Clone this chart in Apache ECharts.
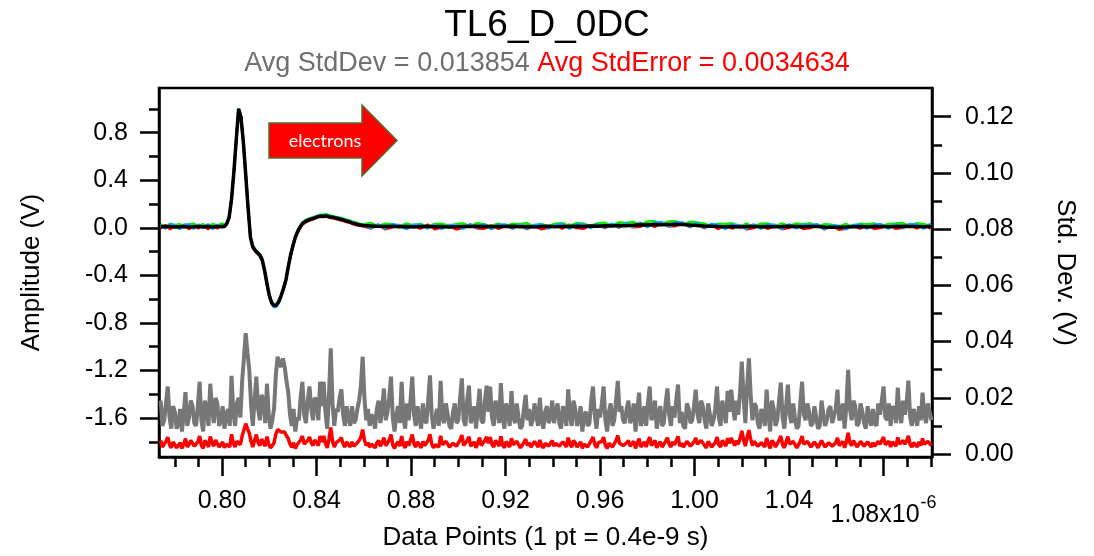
<!DOCTYPE html>
<html>
<head>
<meta charset="utf-8">
<script src="https://cdn.jsdelivr.net/npm/echarts@6/dist/echarts.min.js"></script>
<style>
  html, body { margin: 0; padding: 0; background: #ffffff; }
  #chart { width: 1094px; height: 556px; }
</style>
</head>
<body>
<div id="chart"></div>
<script>
// ---------------- data ----------------
const chartTitle = 'TL6_D_0DC';
const avgStdDev = '0.013854';
const avgStdError = '0.0034634';

// axis ticks (time axis in units of 1e-6 s)
const xTickValues = [0.80, 0.84, 0.88, 0.92, 0.96, 1.00, 1.04, 1.08];
const xMinorTicks = [0.78, 0.79, 0.81, 0.82, 0.83, 0.85, 0.86, 0.87, 0.89, 0.90, 0.91,
  0.93, 0.94, 0.95, 0.97, 0.98, 0.99, 1.01, 1.02, 1.03, 1.05, 1.06, 1.07, 1.09, 1.10];
const ampTickValues = [-1.6, -1.2, -0.8, -0.4, 0.0, 0.4, 0.8];
const ampMinorTicks = [-1.8, -1.4, -1.0, -0.6, -0.2, 0.2, 0.6, 1.0];
const devTickValues = [0.00, 0.02, 0.04, 0.06, 0.08, 0.10, 0.12];
const devMinorTicks = [0.01, 0.03, 0.05, 0.07, 0.09, 0.11];

// sampling segments of the waveform traces: [start, step, count]
const waveSegments = [[0.774, 0.002, 14], [0.801, 0.001, 60], [0.863, 0.003, 80]];
// sampling of the deviation traces
const devStart = 0.774;
const devStep = 0.00075;

// averaged waveform (V)
const waveMean = [
  0.010, 0.008, 0.012, 0.007, 0.009, 0.011, 0.006, 0.009, 0.012, 0.008, 0.010, 0.007, 0.010, 0.012,
  0.012, 0.035, 0.09, 0.24, 0.47, 0.74, 1.0, 0.93, 0.72, 0.45,
  0.17, -0.08, -0.16, -0.19, -0.21, -0.23, -0.27, -0.36, -0.47, -0.57,
  -0.63, -0.655, -0.65, -0.62, -0.57, -0.51, -0.44, -0.33, -0.23, -0.15,
  -0.08, -0.03, 0.005, 0.035, 0.05, 0.06, 0.068, 0.075, 0.082, 0.09,
  0.096, 0.10, 0.098, 0.10, 0.095, 0.09, 0.088, 0.082, 0.078, 0.072,
  0.068, 0.06, 0.055, 0.05, 0.042, 0.036, 0.03, 0.025, 0.022, 0.02,
  0.016, 0.012, 0.010, 0.014, 0.008, 0.011, 0.007, 0.010, 0.012, 0.008,
  0.011, 0.006, 0.009, 0.012, 0.010, 0.014, 0.011, 0.008, 0.012, 0.010,
  0.013, 0.009, 0.011, 0.007, 0.010, 0.013, 0.009, 0.012, 0.010, 0.014,
  0.011, 0.015, 0.013, 0.017, 0.016, 0.020, 0.018, 0.022, 0.025, 0.024,
  0.027, 0.026, 0.028, 0.030, 0.027, 0.024, 0.020, 0.016, 0.013, 0.010,
  0.008, 0.011, 0.007, 0.010, 0.012, 0.009, 0.011, 0.008, 0.010, 0.013,
  0.011, 0.009, 0.012, 0.010, 0.007, 0.005, 0.004, 0.006, 0.009, 0.011,
  0.008, 0.010, 0.012, 0.009, 0.011, 0.013, 0.010, 0.012, 0.009, 0.011
];

// individual acquisitions (V)
const waveRed = [
  -0.006, 0.024, -0.012, 0.018, -0.008, 0.026, -0.012, 0.020, -0.006, 0.024, -0.012, 0.018, -0.006, 0.024,
  0.004, 0.030, 0.085, 0.235, 0.465, 0.735, 0.995, 0.925, 0.715, 0.445,
  0.165, -0.085, -0.17, -0.20, -0.22, -0.24, -0.28, -0.365, -0.475, -0.575,
  -0.635, -0.66, -0.655, -0.625, -0.575, -0.515, -0.445, -0.335, -0.235, -0.155,
  -0.085, -0.04, -0.005, 0.025, 0.04, 0.052, 0.06, 0.068, 0.075, 0.083,
  0.09, 0.093, 0.09, 0.094, 0.088, 0.083, 0.08, 0.075, 0.07, 0.064,
  0.06, 0.052, 0.047, 0.043, 0.034, 0.028, 0.022, 0.017, 0.014, 0.012,
  -0.006, 0.026, -0.012, 0.004, 0.024, -0.010, 0.020, -0.008, 0.028, -0.012,
  0.002, 0.020, -0.014, 0.000, 0.026, -0.006, -0.008, 0.022, -0.010, 0.018,
  -0.006, 0.024, -0.012, 0.018, -0.012, 0.000, 0.024, -0.008, 0.026, -0.002,
  -0.008, 0.020, 0.028, -0.002, 0.032, 0.002, 0.036, 0.004, 0.008, 0.040,
  0.008, 0.038, 0.012, 0.014, 0.042, 0.006, 0.034, -0.004, 0.026, -0.010,
  0.022, -0.008, 0.024, -0.012, -0.002, 0.026, -0.010, 0.020, -0.012, 0.000,
  0.026, -0.010, -0.002, 0.024, -0.014, 0.018, -0.016, -0.008, 0.022, -0.008,
  0.024, -0.010, 0.000, 0.026, -0.008, -0.002, 0.026, -0.006, 0.024, -0.006
];
const waveGreen = [
  0.030, 0.006, 0.034, 0.018, 0.032, 0.004, 0.026, 0.036, 0.012, 0.030, 0.006, 0.032, 0.018, 0.038,
  0.020, 0.042, 0.098, 0.248, 0.478, 0.748, 1.005, 0.94, 0.728, 0.458,
  0.178, -0.07, -0.15, -0.18, -0.20, -0.22, -0.26, -0.35, -0.46, -0.56,
  -0.625, -0.65, -0.645, -0.615, -0.565, -0.505, -0.435, -0.325, -0.225, -0.14,
  -0.07, -0.02, 0.015, 0.045, 0.06, 0.07, 0.078, 0.085, 0.092, 0.1,
  0.106, 0.11, 0.112, 0.115, 0.108, 0.102, 0.098, 0.094, 0.09, 0.085,
  0.08, 0.072, 0.068, 0.062, 0.054, 0.048, 0.042, 0.036, 0.032, 0.03,
  0.040, 0.014, 0.034, 0.030, 0.010, 0.036, 0.020, 0.033, 0.008, 0.032,
  0.035, 0.016, 0.031, 0.038, 0.012, 0.040, 0.028, 0.014, 0.036, 0.009,
  0.034, 0.030, 0.040, 0.012, 0.033, 0.011, 0.035, 0.038, 0.015, 0.040,
  0.034, 0.014, 0.038, 0.042, 0.018, 0.046, 0.040, 0.050, 0.027, 0.052,
  0.055, 0.030, 0.054, 0.056, 0.028, 0.050, 0.044, 0.036, 0.012, 0.034,
  0.032, 0.038, 0.010, 0.035, 0.008, 0.034, 0.036, 0.012, 0.037, 0.014,
  0.036, 0.030, 0.038, 0.008, 0.030, 0.026, 0.010, 0.032, 0.006, 0.035,
  0.030, 0.037, 0.010, 0.033, 0.036, 0.040, 0.016, 0.038, 0.032, 0.010
];
const waveBlue = [
  0.024, -0.006, 0.028, 0.026, -0.010, 0.026, 0.030, -0.008, 0.028, -0.004, 0.030, -0.010, 0.026, 0.000,
  0.016, 0.038, 0.093, 0.243, 0.473, 0.743, 1.002, 0.935, 0.725, 0.455,
  0.175, -0.078, -0.162, -0.195, -0.215, -0.235, -0.275, -0.367, -0.48, -0.58,
  -0.64, -0.668, -0.665, -0.632, -0.58, -0.518, -0.446, -0.336, -0.234, -0.152,
  -0.08, -0.028, 0.008, 0.04, 0.056, 0.066, 0.074, 0.082, 0.088, 0.096,
  0.102, 0.106, 0.104, 0.108, 0.1, 0.096, 0.094, 0.088, 0.084, 0.078,
  0.074, 0.066, 0.06, 0.055, 0.048, 0.042, 0.036, 0.03, 0.028, 0.026,
  -0.004, 0.030, -0.008, 0.032, 0.020, -0.010, 0.028, 0.024, -0.006, 0.026,
  -0.010, 0.024, 0.022, -0.008, 0.030, 0.000, 0.030, -0.012, 0.026, 0.028,
  -0.006, 0.028, -0.008, 0.024, 0.030, -0.006, 0.022, 0.032, -0.008, 0.028,
  0.030, -0.004, 0.032, 0.002, 0.036, 0.004, 0.038, 0.008, 0.044, 0.006,
  0.042, 0.048, 0.010, 0.046, 0.044, 0.008, 0.040, 0.000, 0.032, 0.026,
  -0.010, 0.028, 0.022, -0.008, 0.030, -0.008, 0.028, 0.026, -0.010, 0.030,
  -0.006, 0.026, 0.024, 0.030, -0.012, 0.020, 0.018, -0.014, 0.024, 0.028,
  -0.008, 0.028, 0.030, -0.008, 0.028, -0.002, 0.032, 0.026, -0.008, 0.036
];
const waveYellow = [
  0.006, 0.011, 0.009, 0.002, 0.013, 0.007, 0.010, 0.004, 0.014, 0.006, 0.012, 0.008, 0.003, 0.010,
  0.010, 0.032, 0.088, 0.238, 0.468, 0.738, 0.998, 0.928, 0.718, 0.448,
  0.168, -0.082, -0.164, -0.194, -0.214, -0.234, -0.274, -0.364, -0.474, -0.574,
  -0.634, -0.658, -0.652, -0.622, -0.572, -0.512, -0.442, -0.334, -0.236, -0.158,
  -0.088, -0.036, 0.0, 0.03, 0.045, 0.055, 0.064, 0.07, 0.078, 0.086,
  0.092, 0.096, 0.094, 0.097, 0.092, 0.087, 0.085, 0.079, 0.075, 0.069,
  0.065, 0.057, 0.052, 0.047, 0.039, 0.033, 0.027, 0.022, 0.019, 0.017,
  0.012, 0.009, 0.014, 0.008, 0.011, 0.006, 0.010, 0.013, 0.007, 0.012,
  0.007, 0.010, 0.013, 0.008, 0.012, 0.009, 0.007, 0.012, 0.008, 0.013,
  0.010, 0.006, 0.013, 0.010, 0.007, 0.014, 0.008, 0.010, 0.013, 0.011,
  0.014, 0.012, 0.016, 0.014, 0.019, 0.017, 0.021, 0.024, 0.022, 0.026,
  0.025, 0.029, 0.027, 0.028, 0.025, 0.022, 0.018, 0.014, 0.011, 0.012,
  0.010, 0.008, 0.011, 0.012, 0.008, 0.013, 0.009, 0.011, 0.012, 0.010,
  0.013, 0.011, 0.009, 0.012, 0.009, 0.006, 0.007, 0.008, 0.011, 0.009,
  0.011, 0.012, 0.009, 0.012, 0.010, 0.011, 0.013, 0.010, 0.011, 0.009
];

// standard deviation across acquisitions (V)
const stdDevValues = [
  0.019, 0.010, 0.012, 0.018, 0.024, 0.013, 0.009, 0.017, 0.015, 0.009,
  0.011, 0.016, 0.008, 0.014, 0.022, 0.010, 0.013, 0.019, 0.017, 0.011,
  0.010, 0.017, 0.0257, 0.012, 0.008, 0.019, 0.016, 0.010, 0.025, 0.016,
  0.011, 0.020, 0.018, 0.010, 0.012, 0.017, 0.009, 0.014, 0.016, 0.010,
  0.0278, 0.015, 0.010, 0.018, 0.020, 0.013, 0.026, 0.034, 0.043, 0.036,
  0.030, 0.018, 0.010, 0.019, 0.0275, 0.016, 0.012, 0.021, 0.019, 0.011,
  0.025, 0.014, 0.009, 0.012, 0.016, 0.028, 0.0346, 0.032, 0.031, 0.034,
  0.031, 0.026, 0.022, 0.014, 0.010, 0.016, 0.008, 0.013, 0.012, 0.020,
  0.0257, 0.014, 0.011, 0.019, 0.024, 0.016, 0.012, 0.020, 0.019, 0.012,
  0.0257, 0.017, 0.0257, 0.015, 0.009, 0.021, 0.0376, 0.018, 0.010, 0.016,
  0.015, 0.020, 0.023, 0.014, 0.010, 0.017, 0.013, 0.010, 0.017, 0.011,
  0.012, 0.016, 0.019, 0.024, 0.0346, 0.020, 0.012, 0.016, 0.010, 0.014,
  0.013, 0.009, 0.016, 0.019, 0.011, 0.016, 0.0233, 0.012, 0.015, 0.020,
  0.0275, 0.013, 0.008, 0.014, 0.017, 0.011, 0.0257, 0.013, 0.009, 0.018,
  0.012, 0.019, 0.0275, 0.014, 0.010, 0.017, 0.013, 0.009, 0.018, 0.012,
  0.011, 0.019, 0.028, 0.014, 0.009, 0.013, 0.016, 0.010, 0.026, 0.013,
  0.011, 0.018, 0.014, 0.010, 0.009, 0.015, 0.018, 0.011, 0.012, 0.020,
  0.0269, 0.012, 0.010, 0.019, 0.0243, 0.011, 0.013, 0.017, 0.009, 0.016,
  0.0232, 0.012, 0.011, 0.019, 0.0243, 0.015, 0.024, 0.013, 0.010, 0.019,
  0.016, 0.011, 0.0252, 0.013, 0.009, 0.018, 0.015, 0.010, 0.0224, 0.013,
  0.011, 0.018, 0.013, 0.009, 0.010, 0.016, 0.021, 0.012, 0.016, 0.010,
  0.012, 0.018, 0.014, 0.010, 0.020, 0.012, 0.009, 0.015, 0.017, 0.011,
  0.013, 0.019, 0.011, 0.015, 0.018, 0.011, 0.009, 0.017, 0.014, 0.010,
  0.023, 0.014, 0.010, 0.019, 0.016, 0.010, 0.012, 0.017, 0.008, 0.014,
  0.015, 0.010, 0.011, 0.019, 0.024, 0.014, 0.009, 0.016, 0.013, 0.018,
  0.024, 0.012, 0.008, 0.015, 0.018, 0.010, 0.012, 0.019, 0.026, 0.015,
  0.017, 0.012, 0.011, 0.016, 0.019, 0.011, 0.013, 0.018, 0.008, 0.015,
  0.0218, 0.010, 0.012, 0.017, 0.010, 0.018, 0.024, 0.012, 0.014, 0.019,
  0.009, 0.014, 0.017, 0.010, 0.011, 0.018, 0.0233, 0.014, 0.010, 0.017,
  0.013, 0.019, 0.0247, 0.011, 0.015, 0.010, 0.009, 0.018, 0.016, 0.011,
  0.012, 0.017, 0.0229, 0.014, 0.011, 0.019, 0.017, 0.012, 0.009, 0.018,
  0.014, 0.010, 0.012, 0.016, 0.024, 0.013, 0.010, 0.019, 0.015, 0.011,
  0.0225, 0.015, 0.0229, 0.017, 0.012, 0.019, 0.014, 0.022, 0.0329, 0.020,
  0.011, 0.024, 0.034, 0.021, 0.012, 0.018, 0.017, 0.011, 0.009, 0.016,
  0.014, 0.010, 0.0229, 0.014, 0.008, 0.019, 0.016, 0.010, 0.012, 0.019,
  0.0254, 0.013, 0.009, 0.017, 0.0247, 0.014, 0.011, 0.018, 0.013, 0.009,
  0.010, 0.018, 0.0257, 0.014, 0.012, 0.018, 0.015, 0.010, 0.011, 0.017,
  0.013, 0.009, 0.010, 0.019, 0.014, 0.010, 0.012, 0.016, 0.017, 0.011,
  0.011, 0.016, 0.0229, 0.012, 0.013, 0.018, 0.009, 0.017, 0.0299, 0.016,
  0.012, 0.019, 0.017, 0.010, 0.011, 0.018, 0.015, 0.011, 0.009, 0.017,
  0.013, 0.010, 0.016, 0.011, 0.010, 0.018, 0.014, 0.019, 0.024, 0.013,
  0.012, 0.018, 0.010, 0.017, 0.016, 0.011, 0.0236, 0.014, 0.011, 0.019,
  0.014, 0.018, 0.0261, 0.013, 0.010, 0.016, 0.013, 0.010, 0.017, 0.012,
  0.0218, 0.014, 0.011, 0.018, 0.015, 0.012
];

// standard error of the mean (V)
const stdErrorValues = [
  0.0048, 0.0025, 0.0030, 0.0045, 0.0060, 0.0033, 0.0022, 0.0043, 0.0038, 0.0022,
  0.0028, 0.0040, 0.0020, 0.0035, 0.0055, 0.0025, 0.0033, 0.0048, 0.0043, 0.0028,
  0.0025, 0.0043, 0.0064, 0.0030, 0.0020, 0.0048, 0.0040, 0.0025, 0.0062, 0.0040,
  0.0028, 0.0050, 0.0045, 0.0025, 0.0030, 0.0043, 0.0022, 0.0035, 0.0040, 0.0025,
  0.0070, 0.0038, 0.0025, 0.0045, 0.0050, 0.0033, 0.0065, 0.0085, 0.0108, 0.0090,
  0.0075, 0.0045, 0.0025, 0.0048, 0.0069, 0.0040, 0.0030, 0.0053, 0.0048, 0.0028,
  0.0062, 0.0035, 0.0022, 0.0030, 0.0040, 0.0070, 0.0087, 0.0080, 0.0078, 0.0085,
  0.0078, 0.0065, 0.0055, 0.0035, 0.0025, 0.0040, 0.0020, 0.0033, 0.0030, 0.0050,
  0.0064, 0.0035, 0.0028, 0.0048, 0.0060, 0.0040, 0.0030, 0.0050, 0.0048, 0.0030,
  0.0064, 0.0043, 0.0064, 0.0038, 0.0022, 0.0053, 0.0094, 0.0045, 0.0025, 0.0040,
  0.0038, 0.0050, 0.0058, 0.0035, 0.0025, 0.0043, 0.0033, 0.0025, 0.0043, 0.0028,
  0.0030, 0.0040, 0.0048, 0.0060, 0.0087, 0.0050, 0.0030, 0.0040, 0.0025, 0.0035,
  0.0033, 0.0022, 0.0040, 0.0048, 0.0028, 0.0040, 0.0058, 0.0030, 0.0038, 0.0050,
  0.0069, 0.0033, 0.0020, 0.0035, 0.0043, 0.0028, 0.0064, 0.0033, 0.0022, 0.0045,
  0.0030, 0.0048, 0.0069, 0.0035, 0.0025, 0.0043, 0.0033, 0.0022, 0.0045, 0.0030,
  0.0028, 0.0048, 0.0070, 0.0035, 0.0022, 0.0033, 0.0040, 0.0025, 0.0065, 0.0033,
  0.0028, 0.0045, 0.0035, 0.0025, 0.0022, 0.0038, 0.0045, 0.0028, 0.0030, 0.0050,
  0.0067, 0.0030, 0.0025, 0.0048, 0.0061, 0.0028, 0.0033, 0.0043, 0.0022, 0.0040,
  0.0058, 0.0030, 0.0028, 0.0048, 0.0061, 0.0038, 0.0060, 0.0033, 0.0025, 0.0048,
  0.0040, 0.0028, 0.0063, 0.0033, 0.0022, 0.0045, 0.0038, 0.0025, 0.0056, 0.0033,
  0.0028, 0.0045, 0.0033, 0.0022, 0.0025, 0.0040, 0.0053, 0.0030, 0.0040, 0.0025,
  0.0030, 0.0045, 0.0035, 0.0025, 0.0050, 0.0030, 0.0022, 0.0038, 0.0043, 0.0028,
  0.0033, 0.0048, 0.0028, 0.0038, 0.0045, 0.0028, 0.0022, 0.0043, 0.0035, 0.0025,
  0.0058, 0.0035, 0.0025, 0.0048, 0.0040, 0.0025, 0.0030, 0.0043, 0.0020, 0.0035,
  0.0038, 0.0025, 0.0028, 0.0048, 0.0060, 0.0035, 0.0022, 0.0040, 0.0033, 0.0045,
  0.0060, 0.0030, 0.0020, 0.0038, 0.0045, 0.0025, 0.0030, 0.0048, 0.0065, 0.0038,
  0.0043, 0.0030, 0.0028, 0.0040, 0.0048, 0.0028, 0.0033, 0.0045, 0.0020, 0.0038,
  0.0055, 0.0025, 0.0030, 0.0043, 0.0025, 0.0045, 0.0060, 0.0030, 0.0035, 0.0048,
  0.0022, 0.0035, 0.0043, 0.0025, 0.0028, 0.0045, 0.0058, 0.0035, 0.0025, 0.0043,
  0.0033, 0.0048, 0.0062, 0.0028, 0.0038, 0.0025, 0.0022, 0.0045, 0.0040, 0.0028,
  0.0030, 0.0043, 0.0057, 0.0035, 0.0028, 0.0048, 0.0043, 0.0030, 0.0022, 0.0045,
  0.0035, 0.0025, 0.0030, 0.0040, 0.0060, 0.0033, 0.0025, 0.0048, 0.0038, 0.0028,
  0.0056, 0.0038, 0.0057, 0.0043, 0.0030, 0.0048, 0.0035, 0.0055, 0.0082, 0.0050,
  0.0028, 0.0060, 0.0085, 0.0053, 0.0030, 0.0045, 0.0043, 0.0028, 0.0022, 0.0040,
  0.0035, 0.0025, 0.0057, 0.0035, 0.0020, 0.0048, 0.0040, 0.0025, 0.0030, 0.0048,
  0.0064, 0.0033, 0.0022, 0.0043, 0.0062, 0.0035, 0.0028, 0.0045, 0.0033, 0.0022,
  0.0025, 0.0045, 0.0064, 0.0035, 0.0030, 0.0045, 0.0038, 0.0025, 0.0028, 0.0043,
  0.0033, 0.0022, 0.0025, 0.0048, 0.0035, 0.0025, 0.0030, 0.0040, 0.0043, 0.0028,
  0.0028, 0.0040, 0.0057, 0.0030, 0.0033, 0.0045, 0.0022, 0.0043, 0.0075, 0.0040,
  0.0030, 0.0048, 0.0043, 0.0025, 0.0028, 0.0045, 0.0038, 0.0028, 0.0022, 0.0043,
  0.0033, 0.0025, 0.0040, 0.0028, 0.0025, 0.0045, 0.0035, 0.0048, 0.0060, 0.0033,
  0.0030, 0.0045, 0.0025, 0.0043, 0.0040, 0.0028, 0.0059, 0.0035, 0.0028, 0.0048,
  0.0035, 0.0045, 0.0065, 0.0033, 0.0025, 0.0040, 0.0033, 0.0025, 0.0043, 0.0030,
  0.0055, 0.0035, 0.0028, 0.0045, 0.0038, 0.0030
];

// ---------------- chart ----------------
const FONT = '"Liberation Sans", Arial, sans-serif';

function sampleTimes(segments) {
  const out = [];
  segments.forEach(([start, step, count]) => {
    for (let i = 0; i < count; i++) out.push(+(start + i * step).toFixed(5));
  });
  return out;
}
const waveTime = sampleTimes(waveSegments);
const devTime = sampleTimes([[devStart, devStep, stdDevValues.length]]);
const pairs = (t, v) => v.map((y, i) => [t[i], y]);

const X_MIN = 0.7733, X_MAX = 1.1005;
const AMP_MIN = -1.928, AMP_MAX = 1.176;
const DEV_MIN = -0.00107, DEV_MAX = 0.1302;

const axisStroke = { color: '#000', width: 2.5 };
const labelBase = { color: '#000', fontFamily: FONT, fontSize: 25 };

function minorAxis(extra) {
  return Object.assign({
    type: 'value',
    axisLine: { show: false, onZero: false },
    axisLabel: { show: false },
    splitLine: { show: false }
  }, extra);
}

function traceSeries(name, values, color, width, z) {
  return {
    name: name, type: 'line', xAxisIndex: 0, yAxisIndex: 0,
    data: pairs(waveTime, values), symbol: 'none',
    lineStyle: { color: color, width: width }, z: z
  };
}

const chart = echarts.init(document.getElementById('chart'), null, { renderer: 'canvas' });

chart.setOption({
  animation: false,
  backgroundColor: '#ffffff',
  title: {
    text: chartTitle,
    subtext: '{g|Avg StdDev = ' + avgStdDev + '} {r|Avg StdError = ' + avgStdError + '}',
    left: 'center',
    top: 2,
    itemGap: 6,
    textStyle: { fontFamily: FONT, fontSize: 37, fontWeight: 'normal', color: '#000' },
    subtextStyle: {
      fontFamily: FONT, fontSize: 27,
      rich: {
        g: { fontFamily: FONT, fontSize: 27, color: '#6f6f6f' },
        r: { fontFamily: FONT, fontSize: 27, color: '#ff0000' }
      }
    }
  },
  grid: {
    left: 159, right: 162, top: 88, bottom: 99,
    show: true, borderColor: '#000', borderWidth: 2.5,
    containLabel: false, outerBoundsMode: 'none'
  },
  xAxis: [
    {
      type: 'value', position: 'bottom', min: X_MIN, max: X_MAX,
      axisLine: { show: true, onZero: false, lineStyle: axisStroke },
      axisTick: { show: true, inside: false, length: 19, customValues: xTickValues, lineStyle: axisStroke },
      axisLabel: {
        customValues: xTickValues, margin: 32,
        color: '#000', fontFamily: FONT, fontSize: 25,
        formatter: function (v) {
          if (Math.abs(v - xTickValues[xTickValues.length - 1]) < 1e-9) {
            return '{big|' + v.toFixed(2) + 'x10}{sup|-6}';
          }
          return v.toFixed(2);
        },
        rich: {
          big: { fontFamily: FONT, fontSize: 25, color: '#000', verticalAlign: 'bottom', padding: [14, 0, 0, 0] },
          sup: { fontFamily: FONT, fontSize: 18, color: '#000', verticalAlign: 'top', padding: [5, 0, 0, 1] }
        }
      },
      splitLine: { show: false },
      name: 'Data Points (1 pt = 0.4e-9 s)',
      nameLocation: 'middle', nameGap: 68, nameMoveOverlap: false,
      nameTextStyle: { fontFamily: FONT, fontSize: 26, color: '#000' }
    },
    minorAxis({ position: 'bottom', min: X_MIN, max: X_MAX,
      axisTick: { show: true, inside: false, length: 10, customValues: xMinorTicks, lineStyle: axisStroke } })
  ],
  yAxis: [
    {
      type: 'value', position: 'left', min: AMP_MIN, max: AMP_MAX,
      axisLine: { show: true, onZero: false, lineStyle: axisStroke },
      axisTick: { show: true, inside: false, length: 19, customValues: ampTickValues, lineStyle: axisStroke },
      axisLabel: Object.assign({ customValues: ampTickValues, margin: 31, formatter: v => v.toFixed(1) }, labelBase),
      splitLine: { show: false },
      name: 'Amplitude (V)', nameLocation: 'middle', nameGap: 114, nameMoveOverlap: false,
      nameTextStyle: { fontFamily: FONT, fontSize: 26, color: '#000' }
    },
    {
      type: 'value', position: 'right', min: DEV_MIN, max: DEV_MAX,
      axisLine: { show: true, onZero: false, lineStyle: axisStroke },
      axisTick: { show: true, inside: false, length: 19, customValues: devTickValues, lineStyle: axisStroke },
      axisLabel: Object.assign({ customValues: devTickValues, margin: 33, formatter: v => v.toFixed(2) }, labelBase),
      splitLine: { show: false },
      name: 'Std. Dev. (V)', nameLocation: 'middle', nameGap: 120, nameRotate: -90, nameMoveOverlap: false,
      nameTextStyle: { fontFamily: FONT, fontSize: 26, color: '#000' }
    },
    minorAxis({ position: 'left', min: AMP_MIN, max: AMP_MAX,
      axisTick: { show: true, inside: false, length: 10, customValues: ampMinorTicks, lineStyle: axisStroke } }),
    minorAxis({ position: 'right', min: DEV_MIN, max: DEV_MAX,
      axisTick: { show: true, inside: false, length: 10, customValues: devMinorTicks, lineStyle: axisStroke } })
  ],
  series: [
    {
      name: 'StdDev', type: 'line', xAxisIndex: 0, yAxisIndex: 1,
      data: pairs(devTime, stdDevValues), symbol: 'none',
      lineStyle: { color: '#777777', width: 4 }, z: 2
    },
    {
      name: 'StdError', type: 'line', xAxisIndex: 0, yAxisIndex: 1,
      data: pairs(devTime, stdErrorValues), symbol: 'none',
      lineStyle: { color: '#ff0000', width: 3.5 }, z: 3
    },
    traceSeries('Trace Y', waveYellow, '#ffff00', 2.5, 4),
    traceSeries('Trace R', waveRed, '#ff0000', 2.5, 4),
    traceSeries('Trace G', waveGreen, '#00ee00', 2.5, 4),
    traceSeries('Trace B', waveBlue, '#00a8ff', 2.5, 4),
    traceSeries('Average', waveMean, '#000000', 3.5, 5)
  ],
  graphic: [
    {
      type: 'polygon', z: 100,
      shape: { points: [[269, 123], [362, 123], [362, 105], [397, 140.5], [362, 176], [362, 158], [269, 158]] },
      style: { fill: '#ff0000', stroke: '#56692f', lineWidth: 1.5 }
    },
    {
      type: 'text', z: 101, x: 325, y: 141,
      style: { text: 'electrons', fill: '#ffffff', font: '18px Lato, "Open Sans", sans-serif', align: 'center', verticalAlign: 'middle' }
    }
  ]
});
</script>
</body>
</html>
